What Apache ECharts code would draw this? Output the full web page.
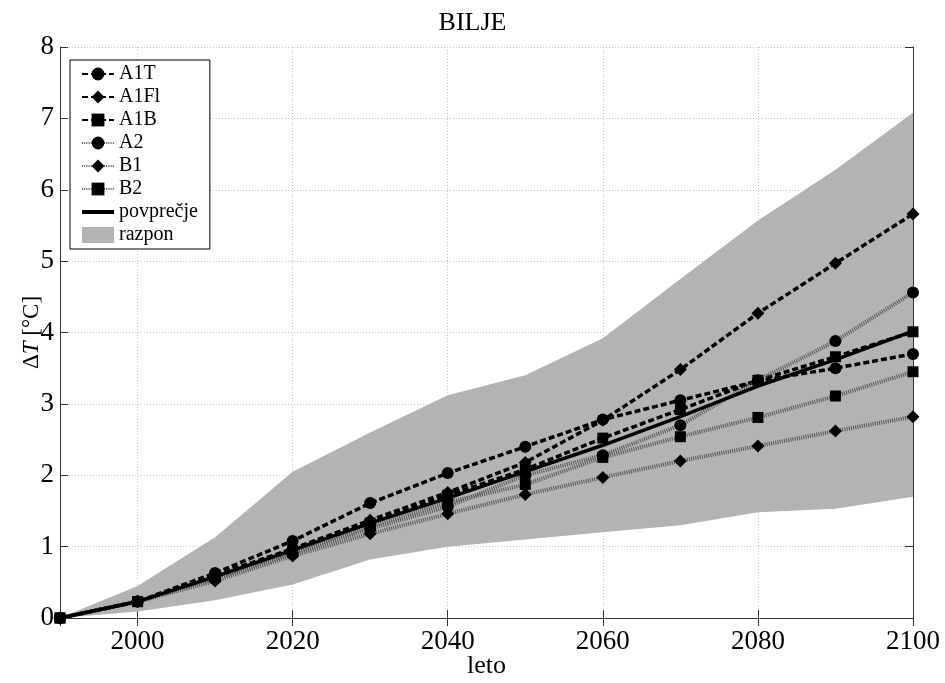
<!DOCTYPE html>
<html>
<head>
<meta charset="utf-8">
<script src="https://cdn.jsdelivr.net/npm/echarts@6/dist/echarts.min.js"></script>
<style>html,body{margin:0;padding:0;background:#fff;}#c{width:945px;height:683px;}</style>
</head>
<body>
<div id="c"></div>
<script>
const years = [1990, 2000, 2010, 2020, 2030, 2040, 2050, 2060, 2070, 2080, 2090, 2100];
const A1T  = [0, 0.23, 0.63, 1.08, 1.61, 2.03, 2.40, 2.78, 3.05, 3.32, 3.50, 3.70];
const A1FI = [0, 0.23, 0.60, 0.97, 1.37, 1.76, 2.18, 2.77, 3.48, 4.27, 4.97, 5.66];
const A1B  = [0, 0.23, 0.58, 0.95, 1.33, 1.72, 2.08, 2.52, 2.92, 3.33, 3.66, 4.01];
const A2   = [0, 0.23, 0.55, 0.90, 1.25, 1.56, 2.00, 2.28, 2.70, 3.33, 3.88, 4.56];
const B1   = [0, 0.23, 0.52, 0.87, 1.18, 1.46, 1.73, 1.97, 2.20, 2.41, 2.62, 2.82];
const B2   = [0, 0.23, 0.57, 0.92, 1.28, 1.62, 1.87, 2.25, 2.54, 2.81, 3.11, 3.45];
const povprecje = [0, 0.23, 0.58, 0.95, 1.33, 1.68, 2.05, 2.42, 2.82, 3.25, 3.62, 4.02];
const rangeUpper = [0, 0.45, 1.13, 2.05, 2.60, 3.12, 3.40, 3.92, 4.75, 5.57, 6.28, 7.08];
const rangeLower = [0, 0.09, 0.25, 0.47, 0.82, 1.00, 1.10, 1.20, 1.30, 1.48, 1.53, 1.70];
const seriesNames = ['A1T', 'A1Fl', 'A1B', 'A2', 'B1', 'B2', 'povprečje', 'razpon'];

const FONT = 'Liberation Serif';
const pairs = arr => years.map((y, i) => [y, arr[i]]);

function scen(name, data, symbol, dotted, size) {
  return {
    type: 'line', name: name, data: pairs(data),
    symbol: symbol, symbolSize: size, showSymbol: true,
    itemStyle: { color: '#000' },
    lineStyle: dotted
      ? { color: '#555', width: 4, type: [1, 1.2] }
      : { color: '#000', width: 3.5, type: [6, 3] },
    z: 3, animation: false
  };
}

const chart = echarts.init(document.getElementById('c'), null, { renderer: 'canvas' });
const axisLine = { show: true, lineStyle: { color: '#333', width: 1 } };
const tickIn = { show: true, inside: true, length: 8, lineStyle: { color: '#333' } };
const legendIcon = {
  'povprečje': 'path://M0,0h32v4h-32z',
  'razpon': 'rect'
};
const option = {
  backgroundColor: '#fff',
  animation: false,
  title: {
    text: 'BILJE', left: 'center', top: 5,
    textStyle: { fontFamily: FONT, fontSize: 26, fontWeight: 'normal', color: '#000' }
  },
  grid: { left: 60, right: 32, top: 47, bottom: 65, containLabel: false, outerBoundsMode: 'none' },
  legend: {
    orient: 'vertical', left: 70, top: 60,
    padding: [4, 12, 4, 11], itemGap: 3, itemWidth: 32, itemHeight: 16,
    backgroundColor: '#fff', borderColor: '#000', borderWidth: 1,
    textStyle: { fontFamily: FONT, fontSize: 20, color: '#000' },
    data: seriesNames.map(n => legendIcon[n] ? { name: n, icon: legendIcon[n] } : { name: n })
  },
  xAxis: [{
    type: 'value', min: 1990, max: 2100, splitNumber: 5,
    axisLine: axisLine, axisTick: tickIn,
    axisLabel: { showMinLabel: false, fontFamily: FONT, fontSize: 27, color: '#000', margin: 10,
      formatter: v => String(v) },
    splitLine: { show: true, lineStyle: { color: '#c4c4c4', type: [1, 2], width: 1 } },
    name: 'leto', nameLocation: 'middle', nameGap: 35, nameMoveOverlap: false,
    nameTextStyle: { fontFamily: FONT, fontSize: 26, color: '#000' }
  }, {
    type: 'value', min: 1990, max: 2100, splitNumber: 5, position: 'top',
    axisLine: axisLine, axisTick: tickIn, axisLabel: { show: false }, splitLine: { show: false }
  }],
  yAxis: [{
    type: 'value', min: 0, max: 8, interval: 1,
    axisLine: axisLine, axisTick: tickIn,
    axisLabel: { fontFamily: FONT, fontSize: 27, color: '#000', margin: 6 },
    splitLine: { show: true, lineStyle: { color: '#c4c4c4', type: [1, 2], width: 1 } },
    name: 'Δ{i|T} [°C]', nameLocation: 'middle', nameGap: 17, nameRotate: 90, nameMoveOverlap: false,
    nameTextStyle: { fontFamily: FONT, fontSize: 23, color: '#000',
      rich: { i: { fontFamily: FONT, fontSize: 23, fontStyle: 'italic', color: '#000' } } }
  }, {
    type: 'value', min: 0, max: 8, interval: 1, position: 'right',
    axisLine: axisLine, axisTick: tickIn, axisLabel: { show: false }, splitLine: { show: false }
  }],
  series: [
    {
      type: 'custom', name: 'razpon', data: [[1990, 0]], z: 1,
      itemStyle: { color: '#b3b3b3' },
      renderItem: function (params, api) {
        const pts = [];
        for (let i = 0; i < years.length; i++) pts.push(api.coord([years[i], rangeUpper[i]]));
        for (let i = years.length - 1; i >= 0; i--) pts.push(api.coord([years[i], rangeLower[i]]));
        return { type: 'polygon', shape: { points: pts }, style: { fill: '#b3b3b3' } };
      }
    },
    scen('A1T', A1T, 'circle', false, 12),
    scen('A1Fl', A1FI, 'diamond', false, 13),
    scen('A1B', A1B, 'rect', false, 11),
    scen('A2', A2, 'circle', true, 12),
    scen('B1', B1, 'diamond', true, 13),
    scen('B2', B2, 'rect', true, 11),
    {
      type: 'line', name: 'povprečje', data: pairs(povprecje), symbol: 'none',
      itemStyle: { color: '#000' }, lineStyle: { color: '#000', width: 3.5 }, z: 4
    }
  ]
};
chart.setOption(option);
</script>
</body>
</html>
